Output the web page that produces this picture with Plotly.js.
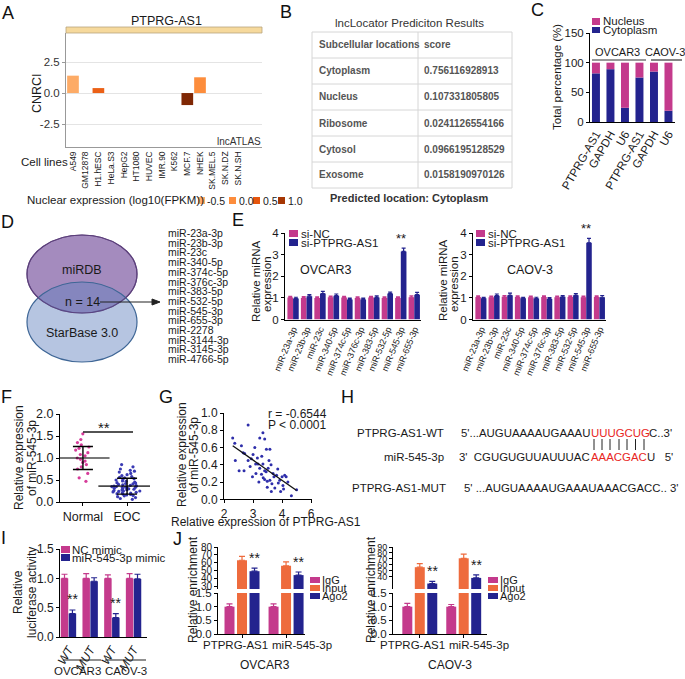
<!DOCTYPE html>
<html><head><meta charset="utf-8">
<script src="https://cdn.plot.ly/plotly-3.0.1.min.js"></script>
<style>html,body{margin:0;padding:0;background:#fff}#chart{width:685px;height:679px}</style>
</head><body><div id="chart"></div>
<script>
// ================= DATA =================
// A: lncATLAS
const cellLines = ['A549','GM12878','H1.hESC','HeLa.S3','HepG2','HT1080','HUVEC','IMR.90','K562','MCF.7','NHEK','SK.MEL.5','SK.N.DZ','SK.N.SH'];
const cnrci = [1.4,null,0.4,null,null,null,null,null,null,-0.97,1.27,null,null,null];
const nuclearExpr = [-0.45,null,0.4,null,null,null,null,null,null,1.25,0.0,null,null,null];
const nucLegendLabels = ['-0.5','0.0','0.5','1.0'];
const nucLegendColors = ['#FDAE6B','#FD8D3C','#E6550D','#A63603'];
// B: lncLocator table
const bLocations = ['Cytoplasm','Nucleus','Ribosome','Cytosol','Exosome'];
const bScores = ['0.756116928913','0.107331805805','0.0241126554166','0.0966195128529','0.0158190970126'];
// C: subcellular fractionation
const cLabels = ['PTPRG-AS1','GAPDH','U6','PTPRG-AS1','GAPDH','U6'];
const cCytoplasm = [82,89,24,75,85,19];
const cNucleus = [18,11,76,25,15,81];
// D: venn list
const dMirs = ['miR-23a-3p','miR-23b-3p','miR-23c','miR-340-5p','miR-374c-5p','miR-376c-3p','miR-383-5p','miR-532-5p','miR-545-3p','miR-655-3p','miR-2278','miR-3144-3p','miR-3145-3p','miR-4766-5p'];
// E: miRNA expression
const eMirs = ['miR-23a-3p','miR-23b-3p','miR-23c','miR-340-5p','miR-374c-5p','miR-376c-3p','miR-383-5p','miR-532-5p','miR-545-3p','miR-655-3p'];
const eOvNC = [1.02,1.0,1.0,1.03,1.02,1.0,1.02,1.0,1.0,1.03];
const eOvNCErr = [0.05,0.06,0.05,0.05,0.05,0.05,0.05,0.05,0.05,0.06];
const eOvSi = [0.97,1.08,1.2,1.1,0.93,0.93,1.02,1.2,3.15,1.15];
const eOvSiErr = [0.06,0.07,0.1,0.08,0.06,0.06,0.07,0.07,0.15,0.1];
const eCaNC = [1.04,1.03,1.05,1.04,1.03,1.04,1.03,1.04,1.03,1.04];
const eCaNCErr = [0.05,0.05,0.06,0.05,0.05,0.05,0.05,0.05,0.05,0.05];
const eCaSi = [0.98,1.1,1.12,0.98,0.97,0.95,1.05,1.12,3.55,1.03];
const eCaSiErr = [0.05,0.08,0.1,0.05,0.06,0.06,0.06,0.08,0.2,0.08];
const eSig = ['','','','','','','','','**',''];
// F: miR-545-3p in tissues
const fGroups = ['Normal','EOC'];
const fNormal = [1.55,1.42,1.35,1.3,1.25,1.22,1.18,1.12,1.08,1.05,1.0,0.97,0.93,0.9,0.85,0.8,0.75,0.65,0.55,0.47];
const fEOC = [0.85,0.8,0.75,0.72,0.7,0.68,0.65,0.62,0.6,0.58,0.56,0.55,0.53,0.52,0.5,0.48,0.47,0.45,0.44,0.43,0.42,0.41,0.4,0.39,0.38,0.37,0.36,0.36,0.35,0.35,0.34,0.33,0.33,0.32,0.31,0.3,0.3,0.29,0.28,0.27,0.26,0.25,0.25,0.24,0.23,0.22,0.21,0.2,0.19,0.18,0.17,0.16,0.15,0.14,0.12,0.1,0.08,0.06];
const fMean = [1.0,0.36];
const fSD = [0.26,0.18];
// G: correlation
const gx = [2.30,2.37,2.83,2.66,3.06,3.23,3.34,3.40,3.46,3.58,2.39,2.71,2.52,2.69,2.83,2.94,3.09,3.17,2.98,3.34,3.23,3.29,3.40,3.52,3.40,3.49,3.58,3.69,3.72,3.81,3.92,4.00,4.09,4.14,3.87,4.03,3.63,3.95,4.32,4.50,3.75,3.49,2.60,3.00,3.15,3.30,3.55,3.62,3.10,3.35,3.65,3.85,4.20,2.90,3.20,4.05,3.45];
const gy = [0.71,0.65,0.86,0.54,0.60,0.71,0.77,0.70,0.58,0.58,0.45,0.53,0.33,0.33,0.45,0.47,0.41,0.41,0.26,0.41,0.36,0.29,0.33,0.36,0.23,0.21,0.22,0.30,0.26,0.28,0.22,0.26,0.28,0.26,0.19,0.16,0.09,0.09,0.04,0.11,0.13,0.14,0.62,0.52,0.48,0.50,0.45,0.40,0.30,0.25,0.18,0.35,0.20,0.38,0.20,0.12,0.32];
const gTickVals = [2,3,4,5];
const gTickText = ['2','3','4','6'];
// I: luciferase
const iLabels = ['WT','MUT','WT','MUT'];
const iNC = [1.0,1.0,1.0,1.0];
const iNCErr = [0.07,0.08,0.06,0.08];
const iMimic = [0.4,0.95,0.33,0.99];
const iMimicErr = [0.06,0.06,0.07,0.08];
const iSig = ['**','','**',''];
// J: RIP
const jGroups = ['PTPRG-AS1','miR-545-3p'];
const jOvIgG = [1.0,1.0], jOvIgGErr = [0.1,0.1];
const jOvInput = [63,56], jOvInputErr = [5,5];
const jOvAgo2 = [49,44], jOvAgo2Err = [4,4];
const jCaIgG = [1.0,1.0], jCaIgGErr = [0.12,0.08];
const jCaInput = [56,71], jCaInputErr = [6,7];
const jCaAgo2 = [28.5,38], jCaAgo2Err = [3.5,5];
const jSig = ['**','**'];

// ================= STYLE / HELPERS =================
const W = 685, H = 679;
const FONT = 'Arial, "Liberation Sans", Helvetica, sans-serif';
const PINK = '#C43A8C', NAVY = '#23238E', ORANGE = '#EE6B3D';
const X = v => v / W, Y = v => 1 - v / H;
const ann = [], shp = [];
function T(text, x, y, size, o) {
  ann.push(Object.assign({text: text, x: X(x), y: Y(y), xref: 'paper', yref: 'paper', showarrow: false,
    xanchor: 'center', yanchor: 'middle', borderpad: 0, font: {family: FONT, size: size || 11, color: '#1a1a1a'}}, o || {}));
}
function rect(x0, y0, x1, y1, fill, lc, lw) {
  shp.push({type: 'rect', xref: 'paper', yref: 'paper', x0: X(x0), x1: X(x1), y0: Y(y1), y1: Y(y0),
    fillcolor: fill, line: {color: lc || fill, width: lw || 0}});
}
function seg(x0, y0, x1, y1, c, w) {
  shp.push({type: 'line', xref: 'paper', yref: 'paper', x0: X(x0), x1: X(x1), y0: Y(y0), y1: Y(y1), line: {color: c, width: w}});
}
function axis(o) {
  return Object.assign({showgrid: false, zeroline: false, showline: true, linecolor: '#000', linewidth: 1,
    ticks: 'outside', ticklen: 3, tickwidth: 1, tickcolor: '#000', fixedrange: true, automargin: false,
    tickfont: {family: FONT, size: 11.5, color: '#1a1a1a'}}, o);
}
const up = e => e.map(() => 0);
function bar(xa, ya, x, y, err, color, offset, width, capw) {
  const t = {type: 'bar', xaxis: xa, yaxis: ya, x: x, y: y, offset: offset, width: width,
    marker: {color: color, line: {width: 0}}, showlegend: false, hoverinfo: 'skip'};
  if (err) t.error_y = {type: 'data', symmetric: false, array: err, arrayminus: up(err), visible: true,
    color: color, thickness: 1.2, width: capw || 2};
  return t;
}
const traces = [];
const L = {width: W, height: H, margin: {l: 0, r: 0, t: 0, b: 0}, showlegend: false, barmode: 'overlay',
  paper_bgcolor: '#fff', plot_bgcolor: 'rgba(0,0,0,0)', font: {family: FONT, color: '#1a1a1a'}};

// ================= PANEL A =================
L.xaxis = axis({domain: [X(66), X(262)], anchor: 'y', type: 'category', categoryorder: 'array', categoryarray: cellLines,
  range: [-0.55, 14.88], tickangle: -90, ticks: '', linecolor: '#999', tickfont: {family: FONT, size: 8.5, color: '#1a1a1a'}});
L.yaxis = axis({domain: [Y(147), Y(33)], anchor: 'x', range: [-4.35, 4.84], tickvals: [-2.5, 0, 2.5],
  ticktext: ['-2.5', '0.0', '2.5'], showgrid: true, gridcolor: '#e4e4e4', linecolor: '#999', tickcolor: '#999',
  tickfont: {family: FONT, size: 11.5, color: '#333'}});
traces.push({type: 'bar', xaxis: 'x', yaxis: 'y', x: cellLines, y: cnrci, width: 0.92, showlegend: false, hoverinfo: 'skip',
  marker: {color: nuclearExpr, cmin: -0.5, cmax: 1.25, showscale: false, line: {width: 0},
    colorscale: [[0, '#FDAE6B'], [0.2857, '#FD8D3C'], [0.5714, '#E6550D'], [0.857, '#A63603'], [1, '#7F2704']]}});
rect(66, 27, 262, 33, '#F6D99C', '#B9A57E', 0.8);
T('PTPRG-AS1', 166, 21, 12.5);
T('CNRCI', 37, 93, 12.5, {textangle: -90});
T('lncATLAS', 262, 141, 10, {xanchor: 'right', font: {family: FONT, size: 10, color: '#333'}});
T('Cell lines', 44, 162, 11.5);
T('Nuclear expression (log10(FPKM))', 26, 200, 11.5, {xanchor: 'left'});
const nucSwatchX = [198, 229, 253, 278];
nucLegendLabels.forEach((lab, i) => {
  const x0 = nucSwatchX[i];
  rect(x0, 197, x0 + 7, 204, nucLegendColors[i]);
  T(lab, x0 + 8.5, 200.5, 10.5, {xanchor: 'left'});
});

// ================= PANEL B =================
T('lncLocator Prediciton Results', 409, 23, 11.5, {font: {family: FONT, size: 11.5, color: '#333'}});
const rowsY = [32, 58, 84, 110, 136, 162, 188];
rowsY.forEach(y => seg(312, y, 512, y, '#d6d6d6', 1));
[312, 418, 512].forEach(x => seg(x, 32, x, 188, '#d6d6d6', 1));
const tb = {family: FONT, size: 10, color: '#555', weight: 'bold'};
T('<b>Subcellular locations</b>', 318, 45, 10, {xanchor: 'left', font: tb});
T('<b>score</b>', 423, 45, 10, {xanchor: 'left', font: tb});
bLocations.forEach((loc, i) => {
  T('<b>' + loc + '</b>', 318, 71 + i * 26, 10, {xanchor: 'left', font: tb});
  T('<b>' + bScores[i] + '</b>', 423, 71 + i * 26, 10, {xanchor: 'left', font: tb});
});
T('<b>Predicted location: Cytoplasm</b>', 409, 198, 11, {font: {family: FONT, size: 11, color: '#333'}});

// ================= PANEL C =================
const cX = cLabels.map((_, i) => i);
L.xaxis2 = axis({domain: [X(590), X(675)], anchor: 'y2', range: [-0.41, 5.45], tickvals: cX, ticktext: cLabels,
  tickangle: -60, ticks: '', tickfont: {family: FONT, size: 11.5, color: '#1a1a1a'}});
L.yaxis2 = axis({domain: [Y(122), Y(33)], anchor: 'x2', range: [0, 150], dtick: 50});
traces.push(bar('x2', 'y2', cX, cCytoplasm, null, NAVY, -0.275, 0.55));
const cNuc = bar('x2', 'y2', cX, cNucleus, null, PINK, -0.275, 0.55);
cNuc.base = cCytoplasm;
traces.push(cNuc);
rect(592, 18, 600, 25, PINK); T('Nucleus', 602, 21, 11.5, {xanchor: 'left'});
rect(592, 27, 600, 33, NAVY); T('Cytoplasm', 602, 30, 11.5, {xanchor: 'left'});
T('OVCAR3', 617, 52, 11); seg(592, 60, 646, 60, '#333', 1.2);
T('CAOV-3', 665, 52, 11); seg(651, 60, 682, 60, '#333', 1.2);
T('Total percentage (%)', 557, 77, 11.5, {textangle: -90});

// ================= PANEL D =================
shp.push({type: 'circle', xref: 'paper', yref: 'paper', x0: X(27), x1: X(137), y0: Y(313), y1: Y(235),
  fillcolor: '#A48BBE', line: {color: '#5B3F7A', width: 1.2}});
shp.push({type: 'circle', xref: 'paper', yref: 'paper', x0: X(27), x1: X(137), y0: Y(362), y1: Y(282),
  fillcolor: 'rgba(95,128,190,0.46)', line: {color: '#3E6696', width: 1.2}});
shp.push({type: 'circle', xref: 'paper', yref: 'paper', x0: X(27), x1: X(137), y0: Y(313), y1: Y(235),
  fillcolor: 'rgba(0,0,0,0)', line: {color: 'rgba(91,63,122,0.8)', width: 1.1}});
T('miRDB', 82, 270, 12.5);
T('n = 14', 82, 302, 12.5);
T('StarBase 3.0', 82, 333, 12.5);
seg(100, 302, 154, 302, '#222', 1.2);
shp.push({type: 'path', xref: 'paper', yref: 'paper', fillcolor: '#222', line: {color: '#222', width: 1},
  path: 'M' + X(160) + ',' + Y(302) + ' L' + X(152) + ',' + Y(299) + ' L' + X(152) + ',' + Y(305) + ' Z'});
dMirs.forEach((m, i) => T(m, 167, 233 + i * 9.7, 10.5, {xanchor: 'left'}));

// ================= PANEL E =================
const eAx = (dom, a) => axis({domain: dom, anchor: a, type: 'category', categoryorder: 'array', categoryarray: eMirs,
  range: [-0.6, 9.5], tickangle: -68, ticks: '', tickfont: {family: FONT, size: 9, color: '#1a1a1a'}});
L.xaxis3 = eAx([X(285), X(421)], 'y3');
L.yaxis3 = axis({domain: [Y(319.5), Y(233)], anchor: 'x3', range: [0, 4], dtick: 1});
L.xaxis4 = eAx([X(473), X(606)], 'y4');
L.yaxis4 = axis({domain: [Y(319.5), Y(233)], anchor: 'x4', range: [0, 4], dtick: 1});
traces.push(bar('x3', 'y3', eMirs, eOvNC, eOvNCErr, PINK, -0.42, 0.42));
traces.push(bar('x3', 'y3', eMirs, eOvSi, eOvSiErr, NAVY, 0, 0.42));
traces.push(bar('x4', 'y4', eMirs, eCaNC, eCaNCErr, PINK, -0.42, 0.42));
traces.push(bar('x4', 'y4', eMirs, eCaSi, eCaSiErr, NAVY, 0, 0.42));
eSig.forEach((s, i) => {
  if (!s) return;
  ann.push({text: s, x: i, y: eOvSi[i] + eOvSiErr[i] + 0.02, xref: 'x3', yref: 'y3', showarrow: false, yanchor: 'bottom', font: {family: FONT, size: 13, color: '#1a1a1a'}});
  ann.push({text: s, x: i, y: eCaSi[i] + eCaSiErr[i] + 0.02, xref: 'x4', yref: 'y4', showarrow: false, yanchor: 'bottom', font: {family: FONT, size: 13, color: '#1a1a1a'}});
});
[[0, 'OVCAR3', 325], [187, 'CAOV-3', 530]].forEach(([dx, name, cx]) => {
  rect(289 + dx, 230, 298 + dx, 237, PINK); T('si-NC', 300 + dx, 233.5, 11.5, {xanchor: 'left'});
  rect(289 + dx, 239, 298 + dx, 246, NAVY); T('si-PTPRG-AS1', 300 + dx, 242.5, 11.5, {xanchor: 'left'});
  T(name, cx, 270, 12.5);
  T('Relative miRNA', 256 + dx, 281, 11.5, {textangle: -90});
  T('expression', 267 + dx, 284, 11.5, {textangle: -90});
});

// ================= PANEL F =================
L.xaxis5 = axis({domain: [X(60), X(150)], anchor: 'y5', type: 'category', categoryorder: 'array', categoryarray: fGroups,
  range: [-0.52, 1.52], tickfont: {family: FONT, size: 12.5, color: '#1a1a1a'}});
L.yaxis5 = axis({domain: [Y(502), Y(414)], anchor: 'x5', range: [0, 2], dtick: 0.5, tickformat: '.1f',
  tickfont: {family: FONT, size: 12.5, color: '#1a1a1a'}});
const boxStyle = {type: 'box', xaxis: 'x5', yaxis: 'y5', boxpoints: 'all', pointpos: 0, width: 0.8,
  fillcolor: 'rgba(0,0,0,0)', line: {color: 'rgba(0,0,0,0)', width: 0}, whiskerwidth: 0, showlegend: false, hoverinfo: 'skip'};
traces.push(Object.assign({}, boxStyle, {x: fNormal.map(() => fGroups[0]), y: fNormal, jitter: 0.45,
  marker: {color: '#D63C9A', size: 3.2}}));
traces.push(Object.assign({}, boxStyle, {x: fEOC.map(() => fGroups[1]), y: fEOC, jitter: 1,
  marker: {color: '#3A3AB4', size: 3.2}}));
traces.push({type: 'scatter', mode: 'markers', xaxis: 'x5', yaxis: 'y5', x: fGroups, y: fMean, showlegend: false, hoverinfo: 'skip',
  marker: {symbol: 'line-ew', size: [38, 41], color: '#000', line: {color: '#000', width: 1.6}},
  error_y: {type: 'data', array: fSD, visible: true, color: '#000', thickness: 1.4, width: 10}});
T('**', 104, 427, 15);
seg(83, 432, 133, 432, '#1a1a1a', 1.3);
T('Relative expression', 19, 458, 12, {textangle: -90});
T('of miR-545-3p', 32, 458, 12, {textangle: -90});

// ================= PANEL G =================
L.xaxis6 = axis({domain: [X(224), X(312)], anchor: 'y6', range: [2, 5.03], tickvals: gTickVals, ticktext: gTickText,
  tickfont: {family: FONT, size: 12, color: '#1a1a1a'}});
L.yaxis6 = axis({domain: [Y(499.3), Y(413)], anchor: 'x6', range: [0, 1.0], dtick: 0.2, tickformat: '.1f',
  tickfont: {family: FONT, size: 12, color: '#1a1a1a'}});
traces.push({type: 'scatter', mode: 'markers', xaxis: 'x6', yaxis: 'y6', x: gx, y: gy, showlegend: false, hoverinfo: 'skip',
  marker: {color: '#2E2EAA', size: 3}});
(function () {
  const n = gx.length, mx = gx.reduce((a, b) => a + b, 0) / n, my = gy.reduce((a, b) => a + b, 0) / n;
  let sxy = 0, sxx = 0;
  for (let i = 0; i < n; i++) { sxy += (gx[i] - mx) * (gy[i] - my); sxx += (gx[i] - mx) * (gx[i] - mx); }
  const b = sxy / sxx, a = my - b * mx;
  const x0 = Math.min.apply(null, gx), x1 = Math.max.apply(null, gx);
  traces.push({type: 'scatter', mode: 'lines', xaxis: 'x6', yaxis: 'y6', x: [x0, x1], y: [a + b * x0, a + b * x1],
    line: {color: '#111', width: 1.3}, showlegend: false, hoverinfo: 'skip'});
})();
T('r = -0.6544', 267, 414, 12, {xanchor: 'left'});
T('P &lt; 0.0001', 267, 425, 12, {xanchor: 'left'});
T('Relative expression', 182, 455, 12, {textangle: -90});
T('of miR-545-3p', 194, 455, 12, {textangle: -90});
T('Relative expression of PTPRG-AS1', 266, 522, 12);

// ================= PANEL H =================
const RED = '#E8261E';
const HF = 11.4;
T('PTPRG-AS1-WT', 445, 433, 11.5, {xanchor: 'right'});
T("5'...AUGUAAAAUGAAAU", 591, 433, HF, {xanchor: 'right'});
T('UUUGCUG', 590, 433, HF, {xanchor: 'left', font: {family: FONT, size: HF, color: RED}});
T("C..3'", 648, 433, HF, {xanchor: 'left'});
T('miR-545-3p', 445, 457, 11.5, {xanchor: 'right'});
T("3'  CGUGUGUUAUUUAC", 591, 457, HF, {xanchor: 'right'});
T('AAACGAC', 590, 457, HF, {xanchor: 'left', font: {family: FONT, size: HF, color: RED}});
T("U   5'", 646, 457, HF, {xanchor: 'left'});
T('PTPRG-AS1-MUT', 447, 488, 11.5, {xanchor: 'right'});
T("5' ...AUGUAAAAUGAAAUAAACGACC.. 3'", 463, 488, HF, {xanchor: 'left'});
[594, 602, 610, 619, 627, 635.5, 644].forEach(x => seg(x, 439, x, 450, '#222', 1));

// ================= PANEL I =================
const iX = iLabels.map((_, i) => i);
L.xaxis7 = axis({domain: [X(60), X(147)], anchor: 'y7', range: [-0.39, 3.62], tickvals: iX, ticktext: iLabels,
  tickangle: -60, ticks: '', tickfont: {family: FONT, size: 12, color: '#1a1a1a', style: 'italic'}});
L.yaxis7 = axis({domain: [Y(637), Y(549)], anchor: 'x7', range: [0, 1.5], dtick: 0.5, tickformat: '.1f',
  tickfont: {family: FONT, size: 12, color: '#1a1a1a'}});
traces.push(bar('x7', 'y7', iX, iNC, iNCErr, PINK, -0.355, 0.345, 3));
traces.push(bar('x7', 'y7', iX, iMimic, iMimicErr, NAVY, 0.01, 0.345, 3));
iSig.forEach((s, i) => {
  if (!s) return;
  ann.push({text: s, x: i + 0.18, y: iMimic[i] + iMimicErr[i] + 0.01, xref: 'x7', yref: 'y7', showarrow: false,
    yanchor: 'bottom', font: {family: FONT, size: 14, color: '#1a1a1a'}});
});
rect(61, 546, 70, 553, PINK); T('NC mimic', 71, 549.5, 11.5, {xanchor: 'left'});
rect(61, 554, 70, 561, NAVY); T('miR-545-3p mimic', 71, 557.5, 11.5, {xanchor: 'left'});
seg(63, 660, 101, 660, '#222', 1.2); seg(105, 660, 146, 660, '#222', 1.2);
T('OVCAR3', 77, 671, 11.5); T('CAOV-3', 126, 671, 11.5);
T('Relative', 18, 592, 12, {textangle: -90});
T('luciferase activity', 32, 592, 12, {textangle: -90});

// ================= PANEL J =================
const jX = jGroups.map((_, i) => i);
const jW = 0.227, jD = 0.284;
function jPanel(xl, yl, xu, yu, dom, rng, upRange, upTicks, upFont, labelX, igg, iggE, inp, inpE, ago, agoE) {
  L['xaxis' + xl] = axis({domain: dom, anchor: 'y' + yl, range: rng, tickvals: jX, showticklabels: false});
  L['yaxis' + yl] = axis({domain: [Y(634), Y(593)], anchor: 'x' + xl, range: [0, 1.5], dtick: 0.5, tickformat: '.1f',
    tickfont: {family: FONT, size: 11.5, color: '#1a1a1a'}});
  L['xaxis' + xu] = {domain: dom, anchor: 'y' + yu, range: rng, visible: false, fixedrange: true};
  L['yaxis' + yu] = axis({domain: [Y(589), Y(547)], anchor: 'x' + xu, range: upRange, tickvals: upTicks,
    tickfont: {family: FONT, size: upFont, color: '#1a1a1a'}});
  [['x' + xl, 'y' + yl], ['x' + xu, 'y' + yu]].forEach(([xa, ya]) => {
    traces.push(bar(xa, ya, jX, igg, iggE, PINK, -jD - jW / 2, jW, 3));
    traces.push(bar(xa, ya, jX, inp, inpE, ORANGE, -jW / 2, jW, 3));
    traces.push(bar(xa, ya, jX, ago, agoE, NAVY, jD - jW / 2, jW, 3));
  });
  jSig.forEach((s, i) => {
    if (!s) return;
    ann.push({text: s, x: i + jD, y: ago[i] + agoE[i], xref: 'x' + xu, yref: 'y' + yu, showarrow: false,
      yanchor: 'bottom', font: {family: FONT, size: 14, color: '#1a1a1a'}});
  });
  jGroups.forEach((g, i) => T(g, labelX[i], 645, 11.5));
}
jPanel(8, 8, 9, 9, [X(218), X(305)], [-0.545, 1.43], [26.2, 80], [30, 40, 50, 60, 70, 80], 10, [235, 302],
  jOvIgG, jOvIgGErr, jOvInput, jOvInputErr, jOvAgo2, jOvAgo2Err);
jPanel(10, 10, 11, 11, [X(393), X(487)], [-0.61, 1.53], [19.3, 90], [40, 50, 60, 70, 80, 90], 9, [413, 479],
  jCaIgG, jCaIgGErr, jCaInput, jCaInputErr, jCaAgo2, jCaAgo2Err);
[[310, 'OVCAR3', 265, 193], [488, 'CAOV-3', 450, 371]].forEach(([lx, name, cx, tx]) => {
  rect(lx, 577, lx + 10, 583, PINK); T('IgG', lx + 11, 580, 11, {xanchor: 'left'});
  rect(lx, 585, lx + 10, 591, ORANGE); T('Input', lx + 11, 588, 11, {xanchor: 'left'});
  rect(lx, 593, lx + 10, 599, NAVY); T('Ago2', lx + 11, 596, 11, {xanchor: 'left'});
  T(name, cx, 665, 12);
  T('Relative enrichment', tx, 590, 12, {textangle: -90});
});

// ================= PANEL LETTERS =================
[['A', 8, 13], ['B', 286, 12], ['C', 537, 10], ['D', 8, 222], ['E', 238, 220], ['F', 6, 397],
 ['G', 166, 397], ['H', 348, 397], ['I', 4, 538], ['J', 177, 539]].forEach(([t, x, y]) =>
  T(t, x, y, 18, {font: {family: FONT, size: 18, color: '#111'}}));

L.annotations = ann;
L.shapes = shp;
Plotly.newPlot('chart', traces, L, {staticPlot: true, displayModeBar: false});
</script>
</body></html>
